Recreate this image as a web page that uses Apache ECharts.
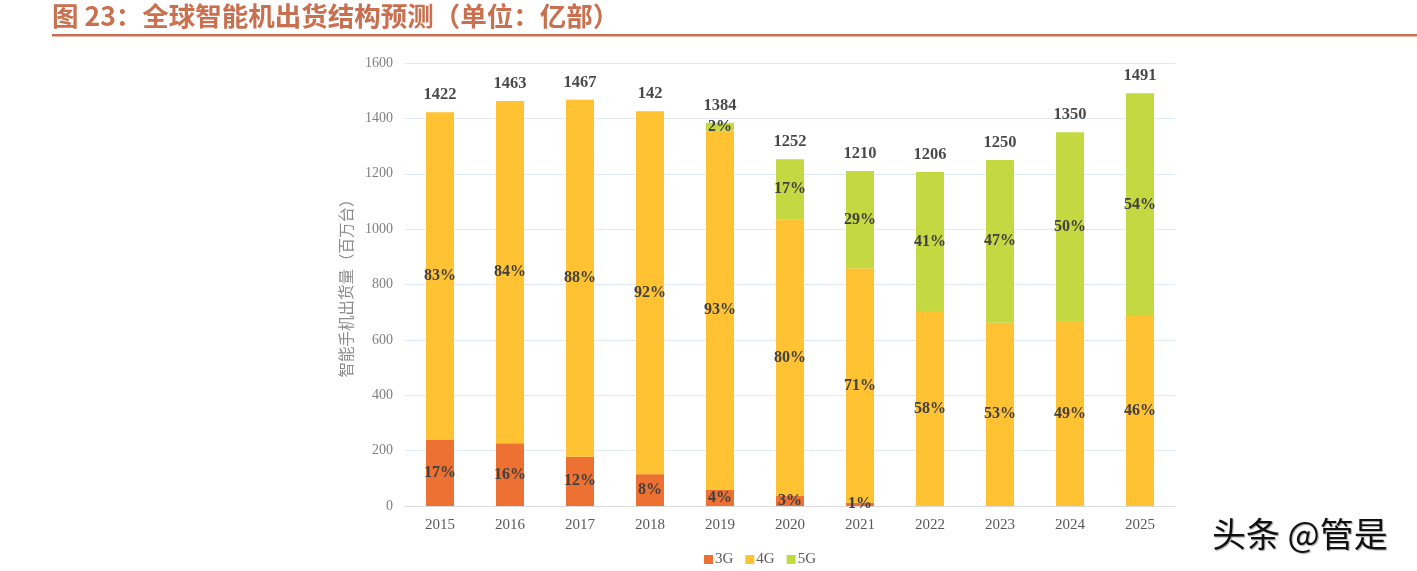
<!DOCTYPE html>
<html>
<head>
<meta charset="utf-8">
<script src="https://cdn.jsdelivr.net/npm/echarts@6/dist/echarts.min.js"></script>
<style>html,body{margin:0;padding:0;background:#fff;}#c{width:1417px;height:571px;}</style>
</head>
<body>
<div id="c"></div>
<script>
const years = ['2015','2016','2017','2018','2019','2020','2021','2022','2023','2024','2025'];
const g3 = [238, 227, 178, 115, 58, 36, 12, 0, 0, 0, 0];
const g4 = [1184, 1236, 1289, 1311, 1298, 1000, 847, 704, 662, 668, 686];
const g5 = [0, 0, 0, 0, 28, 216, 351, 502, 588, 682, 805];
const totals = [1422, 1463, 1467, 1426, 1384, 1252, 1210, 1206, 1250, 1350, 1491];
const totalLabels = ['1422','1463','1467','142','1384','1252','1210','1206','1250','1350','1491'];
const pct3 = ['17%','16%','12%','8%','4%','3%','1%','','','',''];
const pct4 = ['83%','84%','88%','92%','93%','80%','71%','58%','53%','49%','46%'];
const pct5 = ['','','','','2%','17%','29%','41%','47%','50%','54%'];
const yTicks = [0, 200, 400, 600, 800, 1000, 1200, 1400, 1600];

const chart = echarts.init(document.getElementById('c'), null, {renderer:'canvas'});
const serif = '"Liberation Serif", "DejaVu Serif", serif';
const pctLabel = (arr) => ({
  show: true, position: 'inside',
  fontFamily: serif, fontWeight: 'bold', fontSize: 16, color: '#404040',
  formatter: p => arr[p.dataIndex]
});
const option = {
  animation: false,
  backgroundColor: '#fff',
  grid: {left: 405, right: 242, top: 63, bottom: 65},
  legend: {
    data: ['3G','4G','5G'], left: 699, top: 547,
    itemWidth: 9, itemHeight: 9, itemGap: 12, icon: 'rect',
    textStyle: {fontFamily: serif, fontSize: 15, color: '#595959', padding:[0,0,0,-3]}
  },
  xAxis: {
    type: 'category', data: years,
    axisLine: {lineStyle: {color: '#d9d9d9', width: 1}},
    axisTick: {show: false},
    axisLabel: {fontFamily: serif, fontSize: 15, color: '#595959', margin: 12}
  },
  yAxis: {
    type: 'value', min: yTicks[0], max: yTicks[yTicks.length-1], interval: 200,
    name: '智能手机出货量（百万台）', nameLocation: 'middle', nameRotate: 90, nameGap: 50,
    nameTextStyle: {fontFamily: '"Noto Sans CJK SC"', fontSize: 15.5, color: '#8c8c8c'},
    axisLine: {show: false}, axisTick: {show: false},
    axisLabel: {fontFamily: serif, fontSize: 14, color: '#7f7f7f', margin: 12,
      formatter: v => String(v)},
    splitLine: {lineStyle: {color: '#dde9f6', width: 1}}
  },
  series: [
    {name: '3G', type: 'bar', stack: 's', barWidth: 28, data: g3,
     itemStyle: {color: '#ed7132'}, label: pctLabel(pct3)},
    {name: '4G', type: 'bar', stack: 's', data: g4,
     itemStyle: {color: '#fec232'}, label: pctLabel(pct4)},
    {name: '5G', type: 'bar', stack: 's', data: g5,
     itemStyle: {color: '#c4d841'}, label: pctLabel(pct5)},
    {name: 'total', type: 'scatter', data: totals, symbolSize: 0, silent: true,
     label: {show: true, position: 'top', distance: 9,
       fontFamily: serif, fontWeight: 'bold', fontSize: 16.5, color: '#1a1a1a',
       formatter: p => totalLabels[p.dataIndex]}}
  ],
  graphic: [
    {type: 'text', left: 52, top: 3,
     style: {text: '图 23：全球智能机出货结构预测（单位：亿部）', fill: '#c8704f',
       font: 'bold 26.5px "Noto Sans CJK SC"'}},
    {type: 'rect', shape: {x: 52, y: 34, width: 1365, height: 2.5}, style: {fill: '#c8704f'}},
    {type: 'text', left: 1212, top: 517,
     style: {text: '头条 @管是', fill: '#111', font: '34px "Noto Sans CJK SC"',
       textShadowColor: 'rgba(0,0,0,0.35)', textShadowOffsetX: 1, textShadowOffsetY: 1, textShadowBlur: 1}}
  ]
};
chart.setOption(option);
</script>
</body>
</html>
